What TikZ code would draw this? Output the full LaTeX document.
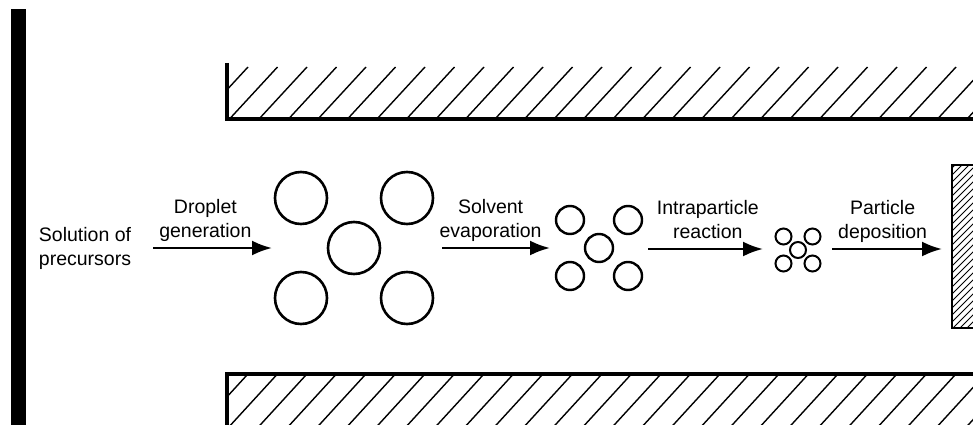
\documentclass[tikz,border=0pt]{standalone}
\usepackage{fontspec}
\setmainfont{Liberation Sans}
\usetikzlibrary{positioning}
\usetikzlibrary{arrows.meta}

\begin{document}
\begin{tikzpicture}[x=1pt, y=-1pt, >={Latex[length=20pt,width=15pt]}, font=\fontsize{19.5}{23.5}\selectfont]%

            \tikzstyle{drop} = [ circle, draw = black, line width = 2.6pt, minimum size = 52pt, inner sep = 0pt]
            \tikzstyle{part} = [ circle, draw = black, line width = 2.4pt, minimum size = 28pt, inner sep = 0pt]
            \tikzstyle{grain} = [ circle, draw = black, line width = 2pt, minimum size = 16pt, inner sep = 0pt]
            \tikzstyle{lbl} = [ align = center, inner sep = 0pt, anchor = base, yshift = 11pt]
            \tikzstyle{flow} = [ ->, line width = 2.5pt]
            \tikzstyle{wall} = [ line width = 3.6pt]
            \tikzstyle{hatch} = [ line width = 1.4pt]
        %%
            \useasboundingbox (0,0) rectangle (973,425);

            %% Reservoir
            \fill (11,9) rectangle (26,430);

            %% Walls
            \begin{scope}
                \clip (227,67) rectangle (980,119);
                \foreach \hx in {200,229.5,...,1010}
                    \draw[hatch] (\hx,119) -- ++(48,-52);
            \end{scope}
            \draw[wall] (227,63) -- (227,119) -- (980,119);

            \begin{scope}
                \clip (227,375) rectangle (980,430);
                \foreach \hx in {217.5,247,...,1040}
                    \draw[hatch] (\hx,375) -- ++(-55,60);
            \end{scope}
            \draw[wall] (227,430) -- (227,374) -- (980,374);

            %% Substrate
            \begin{scope}
                \clip (952,165) rectangle (980,328);
                \foreach \hy in {140,147,...,345}
                    \draw[line width = 0.9pt] (952,\hy) -- ++(40,-40);
            \end{scope}
            \draw[line width = 2.4pt] (985,165) -- (952,165) -- (952,328) -- (985,328);

            %% Source
            \node [align = center, inner sep = 0pt, anchor = base] (src) at (85,265) {Solution of\\precursors};

            %% Droplets
            \node [drop] (d_c) at (354,248) {};
            \node [drop] (d_tl) at ([shift={(-53,-50)}]d_c) {};
            \node [drop] (d_tr) at ([shift={(53,-50)}]d_c) {};
            \node [drop] (d_bl) at ([shift={(-53,50)}]d_c) {};
            \node [drop] (d_br) at ([shift={(53,50)}]d_c) {};

            %% Dried particles
            \node [part] (p_c) at (599,248) {};
            \node [part] (p_tl) at ([shift={(-29,-28)}]p_c) {};
            \node [part] (p_tr) at ([shift={(29,-28)}]p_c) {};
            \node [part] (p_bl) at ([shift={(-29,28)}]p_c) {};
            \node [part] (p_br) at ([shift={(29,28)}]p_c) {};

            %% Reacted particles
            \node [grain] (g_c) at (798,250) {};
            \node [grain] (g_tl) at ([shift={(-14.5,-13.5)}]g_c) {};
            \node [grain] (g_tr) at ([shift={(14.5,-13.5)}]g_c) {};
            \node [grain] (g_bl) at ([shift={(-14.5,13.5)}]g_c) {};
            \node [grain] (g_br) at ([shift={(14.5,13.5)}]g_c) {};

            %% Steps
            \coordinate (a1s) at (153,248);
            \coordinate (a1e) at (272,248);
            \coordinate (a2s) at (442,248);
            \coordinate (a2e) at (550,248);
            \coordinate (a3s) at (648,249);
            \coordinate (a3e) at (763,249);
            \coordinate (a4s) at (832,249);
            \coordinate (a4e) at (942,249);

            \draw[flow] (a1s) -- node[lbl, pos = 0.44] (l_drop) {Droplet\\generation} (a1e);
            \draw[flow] (a2s) -- node[lbl, pos = 0.45] (l_evap) {Solvent\\evaporation} (a2e);
            \draw[flow] (a3s) -- node[lbl, pos = 0.52] (l_reac) {Intraparticle\\reaction} (a3e);
            \draw[flow] (a4s) -- node[lbl, pos = 0.46] (l_depo) {Particle\\deposition} (a4e);

        \end{tikzpicture}
\end{document}
